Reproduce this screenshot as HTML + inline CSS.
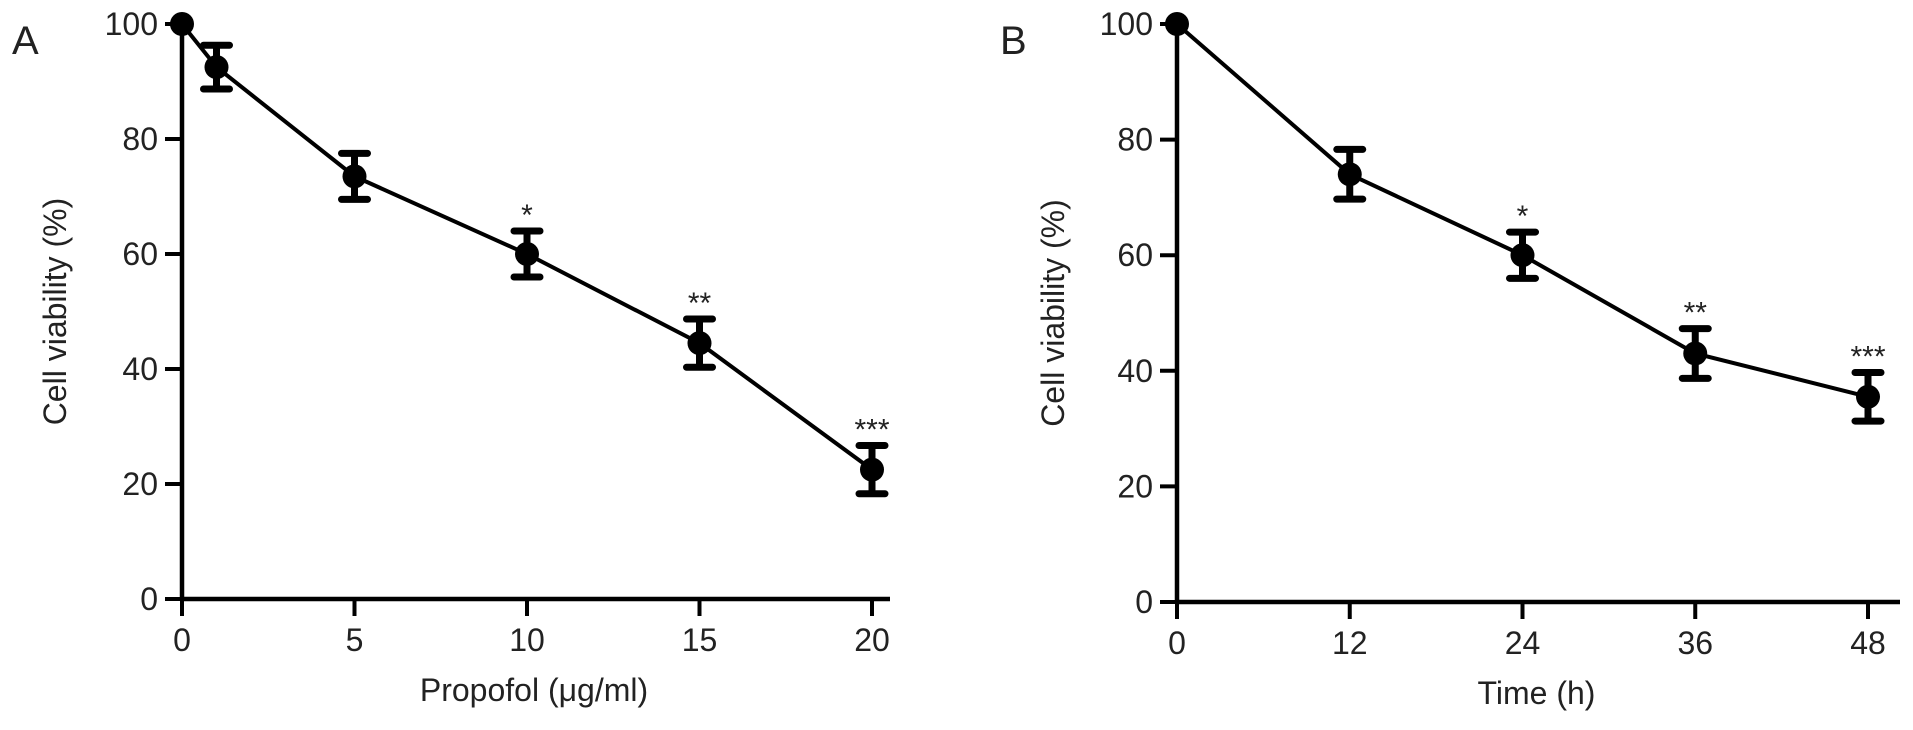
<!DOCTYPE html>
<html><head><meta charset="utf-8"><style>
html,body{margin:0;padding:0;background:#fff;}
svg{display:block;font-family:"Liberation Sans",Arial,sans-serif;}
</style></head><body>
<svg id="chart" width="1913" height="730" viewBox="0 0 1913 730"></svg>
<script>
const aX=[0,1,5,10,15,20];
const aY=[100,92.5,73.5,60,44.5,22.5];
const aErr=[0,3.8,4,4,4.2,4.2];
const aStars=["","","","*","**","***"];
const aXTicks=[0,5,10,15,20];
const bX=[0,12,24,36,48];
const bY=[100,74,60,43,35.5];
const bErr=[0,4.3,4,4.3,4.2];
const bStars=["","","*","**","***"];
const bXTicks=[0,12,24,36,48];
const yTicks=[0,20,40,60,80,100];

const NS="http://www.w3.org/2000/svg";
const svg=document.getElementById('chart');
function mk(tag,attrs,parent,text){const e=document.createElementNS(NS,tag);for(const k in attrs)e.setAttribute(k,attrs[k]);if(text!==undefined)e.textContent=text;(parent||svg).appendChild(e);return e;}

function panel(cfg){
  const g=mk('g',{});
  
  
  const sx=v=>cfg.x0+(v-cfg.xmin)/(cfg.xmax-cfg.xmin)*(cfg.x1-cfg.x0);
  const sy=v=>cfg.y0-v/100*(cfg.y0-cfg.y1);
  const ya=mk('line',{x1:cfg.x0,y1:sy(100)-2,x2:cfg.x0,y2:cfg.y0+2,stroke:'#000','stroke-width':4.5},g);
  
  const xa=mk('line',{x1:cfg.x0-2,y1:cfg.y0,x2:cfg.axEnd,y2:cfg.y0,stroke:'#000','stroke-width':4.5},g);
  
  yTicks.forEach(t=>{
    mk('line',{x1:cfg.x0-17,y1:sy(t),x2:cfg.x0,y2:sy(t),stroke:'#000','stroke-width':4},g);
    const tl=mk('text',{x:cfg.x0-24,y:sy(t)+11,'text-anchor':'end','font-size':32,fill:'#222'},g,String(t));
    
  });
  cfg.xticks.forEach(t=>{
    mk('line',{x1:sx(t),y1:cfg.y0,x2:sx(t),y2:cfg.y0+17,stroke:'#000','stroke-width':4},g);
    const tl=mk('text',{x:sx(t),y:cfg.y0+52,'text-anchor':'middle','font-size':32,fill:'#222'},g,String(t));
    
  });
  const pts=cfg.xs.map((x,i)=>sx(x)+','+sy(cfg.ys[i])).join(' ');
  const pl=mk('polyline',{points:pts,fill:'none',stroke:'#000','stroke-width':4},g);
  
  cfg.xs.forEach((x,i)=>{
    const cx=sx(x),cy=sy(cfg.ys[i]),e=cfg.err[i];
    if(e>0){
      const top=sy(cfg.ys[i]+e),bot=sy(cfg.ys[i]-e);
      const eb=mk('path',{d:`M${cx},${top}V${bot}M${cx-13},${top}H${cx+13}M${cx-13},${bot}H${cx+13}`,stroke:'#000','stroke-width':7,'stroke-linecap':'round',fill:'none'},g);
      
      if(cfg.stars[i]){
        const st=mk('text',{x:cx,y:top-6,'text-anchor':'middle','font-size':30,fill:'#222'},g,cfg.stars[i]);
        
      }
    }
    const c=mk('circle',{cx:cx,cy:cy,r:12,fill:'#000'},g);
    
  });
  const yt=mk('text',{x:0,y:0,transform:`translate(${cfg.ylabX},${(cfg.y0+sy(100))/2}) rotate(-90)`,'text-anchor':'middle','font-size':32,fill:'#222'},g,'Cell viability (%)');
  
  const xt=mk('text',{x:(cfg.x0+cfg.axEnd)/2-2,y:cfg.y0+102,'text-anchor':'middle','font-size':32,fill:'#222'},g,cfg.xtitle);
  
  const pl2=mk('text',{x:cfg.labX,y:54,'font-size':40,fill:'#222'},g,cfg.letter);
  
}
panel({name:'panel-a',x0:182,x1:872,xmin:0,xmax:20,y0:599,y1:24,axEnd:890,xs:aX,ys:aY,err:aErr,stars:aStars,xticks:aXTicks,ylabX:66,xtitle:'Propofol (μg/ml)',labX:12,letter:'A'});
panel({name:'panel-b',x0:1177,x1:1868,xmin:0,xmax:48,y0:602,y1:24,axEnd:1900,xs:bX,ys:bY,err:bErr,stars:bStars,xticks:bXTicks,ylabX:1064,xtitle:'Time (h)',labX:1000,letter:'B'});
</script>
</body></html>
